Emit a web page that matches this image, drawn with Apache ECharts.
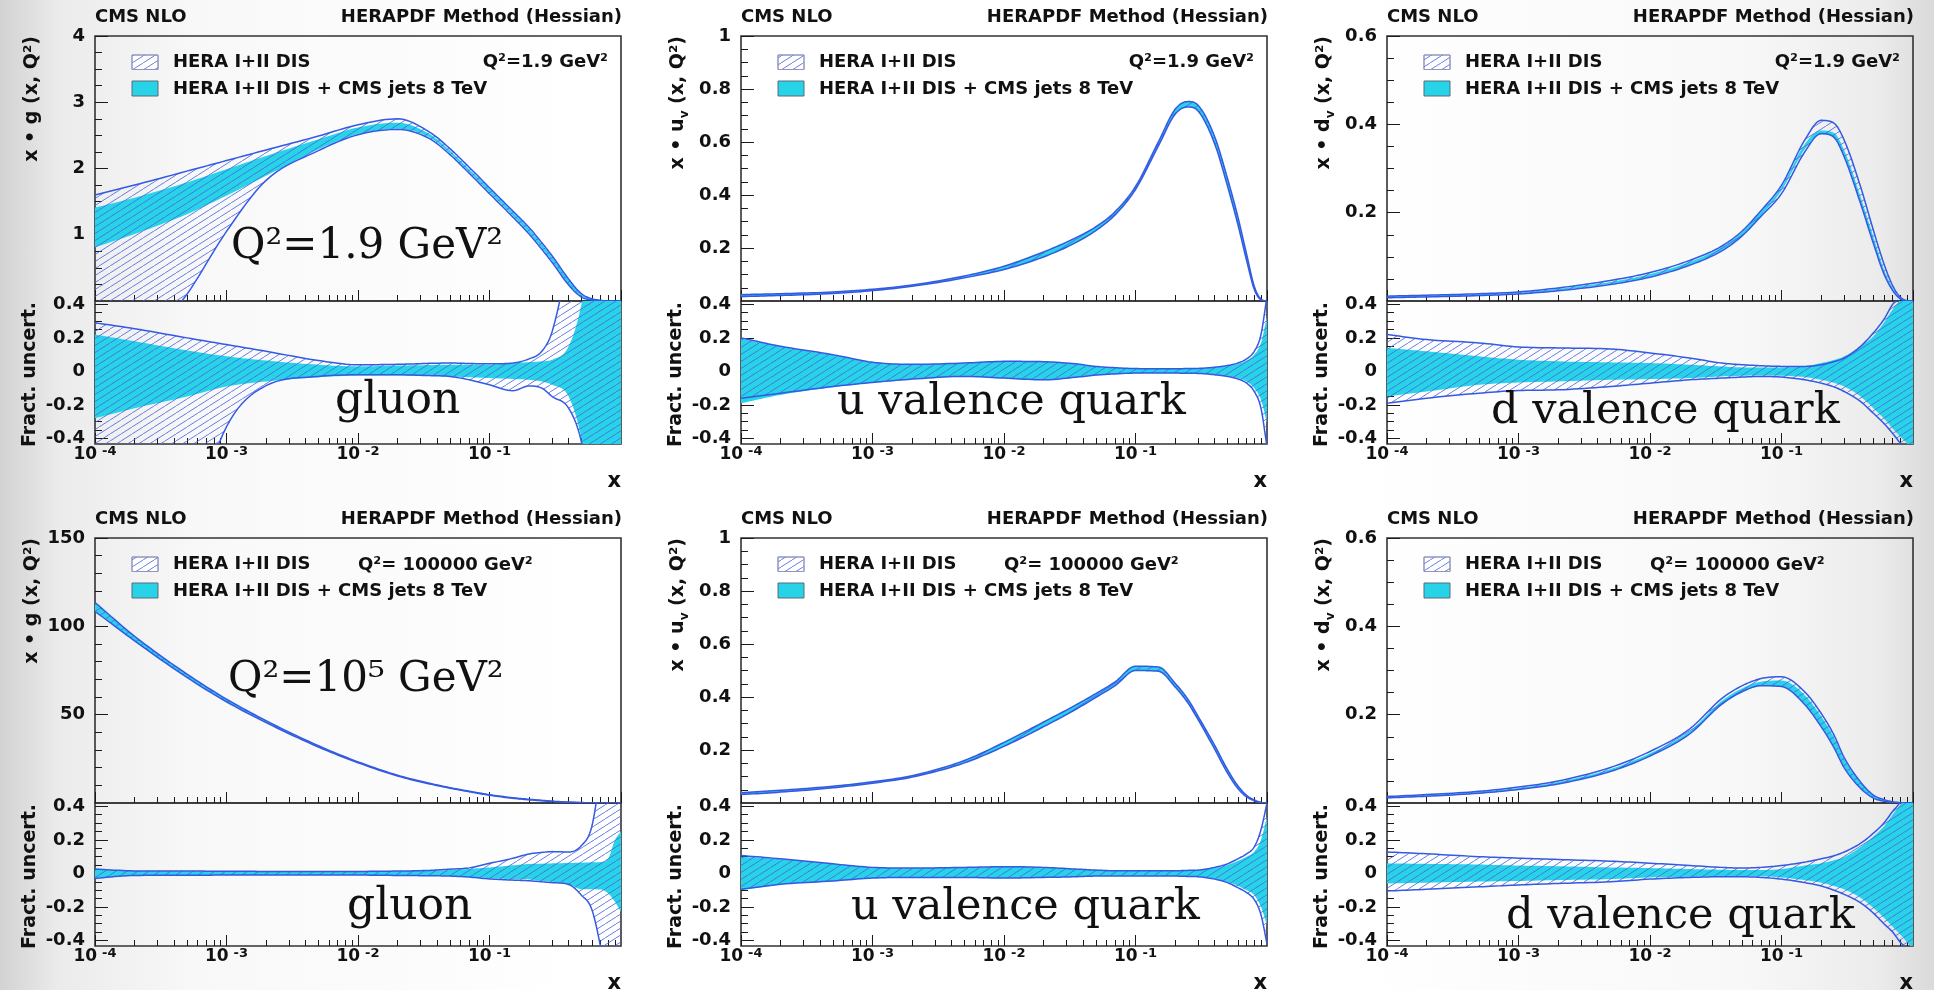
<!DOCTYPE html>
<html>
<head>
<meta charset="utf-8">
<title>HERAPDF gluon / valence</title>
<script src="https://cdn.jsdelivr.net/npm/echarts@6.0.0/dist/echarts.min.js"></script>
<style>
  html, body { margin: 0; padding: 0; }
  body { background: linear-gradient(to right, #d2d2d2 0%, #ebebeb 3%, #f8f8f8 10%, #ffffff 30%, #ffffff 70%, #f8f8f8 90%, #ececec 97%, #dadada 100%); }
  #main { width: 1934px; height: 990px; }
</style>
</head>
<body>
<div id="main"></div>
<script>
// shared x points (Bjorken x)
const xs = [1e-4, 2e-4, 5e-4, 1e-3, 2e-3, 5e-3, 1e-2, 2e-2, 3.5e-2, 5e-2, 7e-2, 0.1, 0.15, 0.2, 0.25, 0.3, 0.4, 0.5, 0.6, 0.7, 0.8, 0.9, 1.0];

// tick labels
const xTickExps = [-4, -3, -2, -1];
const ratioTicks = [-0.4, -0.2, 0, 0.2, 0.4];
const ratioMinorTicks = [-0.35, -0.3, -0.25, -0.15, -0.1, -0.05, 0.05, 0.1, 0.15, 0.25, 0.3, 0.35];

// gluon, Q2 = 1.9 GeV2
const gA_heraHi = [1.60, 1.75, 1.96, 2.12, 2.28, 2.49, 2.66, 2.75, 2.55, 2.30, 2.02, 1.71, 1.36, 1.11, 0.88, 0.68, 0.33, 0.11, 0.035, 0.01, 0, 0, 0];
const gA_heraLo = [-3.0, -0.9, 0.10, 1.05, 1.82, 2.27, 2.51, 2.59, 2.45, 2.21, 1.93, 1.62, 1.27, 1.01, 0.78, 0.58, 0.24, 0.06, 0.015, 0, 0, 0, 0];
const gA_cmsHi = [1.41, 1.56, 1.79, 1.99, 2.19, 2.44, 2.62, 2.69, 2.52, 2.27, 1.99, 1.69, 1.34, 1.09, 0.86, 0.66, 0.32, 0.10, 0.03, 0.008, 0, 0, 0];
const gA_cmsLo = [0.81, 1.01, 1.31, 1.59, 1.89, 2.29, 2.52, 2.60, 2.47, 2.23, 1.95, 1.64, 1.29, 1.03, 0.80, 0.60, 0.25, 0.07, 0.02, 0.004, 0, 0, 0];
const gA_rHeraHi = [0.29, 0.255, 0.20, 0.16, 0.12, 0.065, 0.04, 0.042, 0.048, 0.05, 0.047, 0.045, 0.05, 0.075, 0.12, 0.24, 0.70, 1.2, 1.5, 1.8, 2.0, 2.0, 2.0];
const gA_rHeraLo = [-3.0, -2.0, -1.0, -0.33, -0.085, -0.03, -0.02, -0.02, -0.025, -0.03, -0.05, -0.08, -0.115, -0.087, -0.10, -0.15, -0.22, -0.42, -0.8, -1.2, -1.5, -1.5, -1.5];
const gA_rCmsHi = [0.22, 0.18, 0.125, 0.09, 0.065, 0.04, 0.03, 0.035, 0.038, 0.04, 0.04, 0.04, 0.05, 0.055, 0.06, 0.07, 0.15, 0.40, 0.8, 1.2, 1.5, 1.5, 1.5];
const gA_rCmsLo = [-0.28, -0.22, -0.15, -0.09, -0.06, -0.035, -0.025, -0.025, -0.027, -0.03, -0.035, -0.04, -0.045, -0.05, -0.06, -0.08, -0.15, -0.40, -0.8, -1.2, -1.5, -1.5, -1.5];

// u valence, Q2 = 1.9 GeV2
const uB_heraHi = [0.024, 0.0276, 0.0341, 0.0443, 0.0604, 0.0945, 0.1314, 0.1852, 0.2383, 0.2802, 0.3373, 0.4322, 0.6025, 0.7234, 0.7526, 0.7381, 0.6201, 0.4637, 0.3182, 0.1763, 0.056, 0.0073, 0];
const uB_heraLo = [0.0168, 0.0209, 0.0282, 0.0392, 0.0553, 0.0873, 0.119, 0.1663, 0.22, 0.266, 0.3251, 0.4208, 0.5871, 0.7049, 0.7319, 0.7163, 0.5929, 0.4346, 0.2894, 0.1525, 0.044, 0.0047, 0];
const uB_cmsHi = [0.0239, 0.0276, 0.034, 0.0443, 0.0604, 0.0944, 0.1313, 0.185, 0.238, 0.2799, 0.3369, 0.4318, 0.6019, 0.7227, 0.7518, 0.7373, 0.6189, 0.4623, 0.3166, 0.1747, 0.055, 0.007, 0];
const uB_cmsLo = [0.0162, 0.0206, 0.0281, 0.0391, 0.0553, 0.0872, 0.1189, 0.1661, 0.2198, 0.2657, 0.3247, 0.4203, 0.5871, 0.7049, 0.7319, 0.7163, 0.5935, 0.4359, 0.2909, 0.1542, 0.045, 0.005, 0];
const uB_rHeraHi = [0.20, 0.15, 0.10, 0.055, 0.042, 0.05, 0.06, 0.058, 0.045, 0.03, 0.022, 0.017, 0.016, 0.016, 0.017, 0.018, 0.025, 0.035, 0.05, 0.075, 0.12, 0.22, 0.45];
const uB_rHeraLo = [-0.16, -0.13, -0.09, -0.066, -0.046, -0.03, -0.04, -0.05, -0.035, -0.022, -0.015, -0.01, -0.01, -0.01, -0.011, -0.012, -0.02, -0.03, -0.045, -0.07, -0.12, -0.22, -0.45];
const uB_rCmsHi = [0.195, 0.148, 0.098, 0.054, 0.041, 0.049, 0.059, 0.057, 0.044, 0.029, 0.021, 0.016, 0.015, 0.015, 0.016, 0.017, 0.023, 0.032, 0.045, 0.065, 0.10, 0.17, 0.33];
const uB_rCmsLo = [-0.19, -0.14, -0.095, -0.068, -0.047, -0.031, -0.041, -0.051, -0.036, -0.023, -0.016, -0.011, -0.01, -0.01, -0.011, -0.012, -0.019, -0.027, -0.04, -0.06, -0.10, -0.17, -0.31];

// d valence, Q2 = 1.9 GeV2
const dC_heraHi = [0.011, 0.0131, 0.0164, 0.0206, 0.0296, 0.0465, 0.0644, 0.0918, 0.124, 0.158, 0.205, 0.262, 0.364, 0.409, 0.403, 0.364, 0.258, 0.16, 0.085, 0.035, 0.009, 0.001, 0];
const dC_heraLo = [0.0073, 0.0092, 0.0122, 0.016, 0.0231, 0.0373, 0.054, 0.0808, 0.113, 0.147, 0.192, 0.243, 0.337, 0.379, 0.371, 0.326, 0.22, 0.13, 0.062, 0.024, 0.005, 0, 0];
const dC_cmsHi = [0.0103, 0.0123, 0.0153, 0.0193, 0.0276, 0.0432, 0.0609, 0.0884, 0.1215, 0.1556, 0.2028, 0.258, 0.355, 0.386, 0.381, 0.341, 0.235, 0.145, 0.072, 0.03, 0.007, 0.0005, 0];
const dC_cmsLo = [0.0077, 0.0097, 0.0129, 0.0168, 0.0244, 0.039, 0.0553, 0.0816, 0.1145, 0.148, 0.1932, 0.25, 0.343, 0.377, 0.369, 0.326, 0.22, 0.132, 0.064, 0.025, 0.005, 0, 0];
const dC_rHeraHi = [0.22, 0.19, 0.17, 0.146, 0.14, 0.134, 0.11, 0.08, 0.05, 0.04, 0.034, 0.03, 0.03, 0.04, 0.058, 0.08, 0.15, 0.23, 0.31, 0.40, 0.45, 0.6, 0.8];
const dC_rHeraLo = [-0.19, -0.16, -0.13, -0.114, -0.11, -0.09, -0.07, -0.05, -0.04, -0.034, -0.03, -0.034, -0.05, -0.07, -0.092, -0.12, -0.18, -0.25, -0.31, -0.37, -0.43, -0.5, -0.6];
const dC_rCmsHi = [0.14, 0.12, 0.09, 0.07, 0.06, 0.054, 0.05, 0.04, 0.03, 0.024, 0.024, 0.024, 0.03, 0.05, 0.068, 0.09, 0.15, 0.21, 0.29, 0.37, 0.43, 0.5, 0.6];
const dC_rCmsLo = [-0.15, -0.12, -0.08, -0.066, -0.06, -0.05, -0.046, -0.04, -0.03, -0.026, -0.024, -0.026, -0.034, -0.05, -0.068, -0.09, -0.15, -0.22, -0.28, -0.34, -0.39, -0.43, -0.5];

// gluon, Q2 = 100000 GeV2
const gD_heraHi = [113.5, 94.4, 73.0, 58.8, 46.6, 32.4, 23.3, 15.7, 11.2, 8.7, 6.7, 4.7, 3.0, 2.1, 1.52, 1.02, 0.5, 0.25, 0.1, 0.05, 0.02, 0.005, 0];
const gD_heraLo = [108.5, 91.8, 71.1, 57.3, 45.5, 31.7, 22.8, 15.3, 10.8, 8.4, 6.4, 4.4, 2.7, 1.8, 1.28, 0.85, 0.42, 0.18, 0.07, 0.02, 0.005, 0, 0];
const gD_cmsHi = [113, 94.2, 72.9, 58.7, 46.5, 32.3, 23.2, 15.6, 11.1, 8.6, 6.6, 4.6, 2.9, 2.0, 1.43, 0.95, 0.47, 0.21, 0.085, 0.032, 0.011, 0.002, 0];
const gD_cmsLo = [109, 91.9, 71.2, 57.4, 45.6, 31.8, 22.9, 15.4, 10.9, 8.4, 6.4, 4.4, 2.75, 1.85, 1.3, 0.87, 0.43, 0.19, 0.075, 0.028, 0.009, 0.002, 0];
const gD_rHeraHi = [0.026, 0.015, 0.014, 0.013, 0.012, 0.012, 0.012, 0.014, 0.018, 0.025, 0.033, 0.06, 0.09, 0.116, 0.125, 0.13, 0.128, 0.166, 0.28, 0.6, 0.9, 1.0, 1.0];
const gD_rHeraLo = [-0.03, -0.012, -0.011, -0.01, -0.01, -0.01, -0.01, -0.012, -0.014, -0.016, -0.022, -0.033, -0.04, -0.044, -0.05, -0.055, -0.066, -0.13, -0.215, -0.44, -0.7, -0.9, -1.0];
const gD_rCmsHi = [0.022, 0.014, 0.013, 0.012, 0.011, 0.011, 0.011, 0.013, 0.016, 0.02, 0.027, 0.036, 0.048, 0.056, 0.058, 0.06, 0.062, 0.064, 0.066, 0.068, 0.09, 0.2, 0.25];
const gD_rCmsLo = [-0.027, -0.011, -0.01, -0.009, -0.009, -0.009, -0.009, -0.011, -0.013, -0.015, -0.02, -0.028, -0.034, -0.036, -0.045, -0.05, -0.064, -0.094, -0.095, -0.096, -0.12, -0.17, -0.23];

// u valence, Q2 = 100000 GeV2
const uE_heraHi = [0.0387, 0.0478, 0.0634, 0.0798, 0.1032, 0.1606, 0.2288, 0.3056, 0.3694, 0.4131, 0.4572, 0.5161, 0.5131, 0.4521, 0.3919, 0.3264, 0.2176, 0.1268, 0.0652, 0.029, 0.0116, 0.0025, 0];
const uE_heraLo = [0.0317, 0.0411, 0.0573, 0.0748, 0.0976, 0.1513, 0.2138, 0.2879, 0.3528, 0.3985, 0.4428, 0.4999, 0.4969, 0.4379, 0.3781, 0.3136, 0.2029, 0.1134, 0.0549, 0.023, 0.0084, 0.0015, 0];
const uE_cmsHi = [0.0385, 0.0477, 0.0634, 0.0797, 0.1031, 0.1604, 0.2286, 0.3053, 0.369, 0.4127, 0.4568, 0.5156, 0.5126, 0.4517, 0.3915, 0.3261, 0.2169, 0.126, 0.0645, 0.0286, 0.0113, 0.0024, 0];
const uE_cmsLo = [0.0315, 0.0411, 0.0572, 0.0748, 0.0976, 0.1513, 0.2138, 0.2879, 0.3528, 0.3985, 0.4433, 0.5004, 0.4974, 0.4383, 0.3785, 0.3139, 0.2035, 0.114, 0.0555, 0.0234, 0.0087, 0.0016, 0];
const uE_rHeraHi = [0.107, 0.087, 0.057, 0.036, 0.032, 0.036, 0.04, 0.036, 0.026, 0.02, 0.016, 0.016, 0.016, 0.016, 0.018, 0.02, 0.036, 0.057, 0.087, 0.117, 0.158, 0.26, 0.42];
const uE_rHeraLo = [-0.095, -0.065, -0.045, -0.028, -0.024, -0.024, -0.028, -0.024, -0.02, -0.016, -0.016, -0.016, -0.016, -0.016, -0.018, -0.02, -0.034, -0.055, -0.085, -0.115, -0.156, -0.247, -0.42];
const uE_rCmsHi = [0.10, 0.085, 0.056, 0.035, 0.031, 0.035, 0.039, 0.035, 0.025, 0.019, 0.015, 0.015, 0.015, 0.015, 0.017, 0.019, 0.033, 0.05, 0.075, 0.10, 0.13, 0.2, 0.34];
const uE_rCmsLo = [-0.10, -0.066, -0.046, -0.028, -0.024, -0.024, -0.028, -0.024, -0.02, -0.016, -0.015, -0.015, -0.015, -0.015, -0.017, -0.019, -0.031, -0.05, -0.075, -0.10, -0.13, -0.2, -0.31];

// d valence, Q2 = 100000 GeV2
const dF_heraHi = [0.0147, 0.019, 0.0264, 0.036, 0.0498, 0.0805, 0.1167, 0.1675, 0.2362, 0.2652, 0.2818, 0.2858, 0.2518, 0.2033, 0.1547, 0.1026, 0.0472, 0.018, 0.0078, 0.0027, 0.001, 0, 0];
const dF_heraLo = [0.0116, 0.0154, 0.0221, 0.0307, 0.0432, 0.0713, 0.1063, 0.1562, 0.2234, 0.2519, 0.2655, 0.2637, 0.223, 0.173, 0.126, 0.0796, 0.033, 0.0111, 0.0042, 0.0013, 0.0004, 0, 0];
const dF_cmsHi = [0.0136, 0.0178, 0.025, 0.0342, 0.0475, 0.0769, 0.1124, 0.1625, 0.2307, 0.2595, 0.2747, 0.2773, 0.2446, 0.1962, 0.1494, 0.0988, 0.0459, 0.0175, 0.0076, 0.0027, 0.001, 0, 0];
const dF_cmsLo = [0.0121, 0.0159, 0.0226, 0.0312, 0.0437, 0.0717, 0.1063, 0.1552, 0.2219, 0.2503, 0.2647, 0.2638, 0.2243, 0.1749, 0.1282, 0.0815, 0.0338, 0.0114, 0.0044, 0.0013, 0.0004, 0, 0];
const dF_rHeraHi = [0.128, 0.117, 0.10, 0.091, 0.083, 0.073, 0.061, 0.047, 0.036, 0.032, 0.036, 0.047, 0.067, 0.087, 0.105, 0.128, 0.18, 0.24, 0.30, 0.37, 0.43, 0.55, 0.7];
const dF_rHeraLo = [-0.105, -0.095, -0.08, -0.069, -0.06, -0.05, -0.034, -0.024, -0.02, -0.02, -0.024, -0.034, -0.055, -0.075, -0.1, -0.125, -0.176, -0.237, -0.3, -0.35, -0.41, -0.45, -0.5];
const dF_rCmsHi = [0.06, 0.057, 0.053, 0.047, 0.043, 0.036, 0.032, 0.026, 0.022, 0.02, 0.02, 0.026, 0.047, 0.06, 0.078, 0.097, 0.158, 0.22, 0.28, 0.35, 0.41, 0.46, 0.55];
const dF_rCmsLo = [-0.06, -0.055, -0.049, -0.045, -0.04, -0.034, -0.024, -0.02, -0.017, -0.016, -0.017, -0.024, -0.04, -0.055, -0.075, -0.095, -0.146, -0.206, -0.263, -0.318, -0.364, -0.41, -0.45];

const SANS = 'DejaVu Sans';
const SERIF = 'DejaVu Serif';
const lineBlue = '#3459e2';
const cyanFill = '#27d3e7';

// hatch tile for the HERA-only band
function hatchTile(w, h, color, lw) {
    const c = document.createElement('canvas');
    c.width = w; c.height = h;
    const ctx = c.getContext('2d');
    ctx.strokeStyle = color;
    ctx.lineWidth = lw;
    ctx.beginPath();
    for (let k = -1; k <= 1; k++) {
        ctx.moveTo(k * w, h);
        ctx.lineTo(k * w + w, 0);
    }
    ctx.stroke();
    return c;
}
const hatch = { image: hatchTile(11, 7, 'rgba(78,102,226,0.85)', 1), repeat: 'repeat' };

// monotone cubic (Fritsch-Carlson) sampling between the read points, for drawing only
function monoSpline(xv, yv, steps) {
    const n = xv.length, d = [], m = new Array(n);
    for (let i = 0; i < n - 1; i++) d.push((yv[i + 1] - yv[i]) / (xv[i + 1] - xv[i]));
    m[0] = d[0]; m[n - 1] = d[n - 2];
    for (let i = 1; i < n - 1; i++) m[i] = d[i - 1] * d[i] <= 0 ? 0 : (d[i - 1] + d[i]) / 2;
    for (let i = 0; i < n - 1; i++) {
        if (d[i] === 0) { m[i] = 0; m[i + 1] = 0; continue; }
        const a = m[i] / d[i], b = m[i + 1] / d[i], s = a * a + b * b;
        if (s > 9) { const t = 3 / Math.sqrt(s); m[i] = t * a * d[i]; m[i + 1] = t * b * d[i]; }
    }
    const out = [];
    for (let i = 0; i < n - 1; i++) {
        const h = xv[i + 1] - xv[i];
        for (let k = 0; k < steps; k++) {
            const t = k / steps, t2 = t * t, t3 = t2 * t;
            const y = (2 * t3 - 3 * t2 + 1) * yv[i] + (t3 - 2 * t2 + t) * h * m[i]
                    + (-2 * t3 + 3 * t2) * yv[i + 1] + (t3 - t2) * h * m[i + 1];
            out.push([xv[i] + t * h, y]);
        }
    }
    out.push([xv[n - 1], yv[n - 1]]);
    return out;
}

const colLeft = [95, 741, 1387];
const rowTop = [36, 538];
const plotW = 526, topH = 265, ratH = 143;
const ratMin = -0.433, ratMax = 0.42;

const panels = [
    { col: 0, row: 0, top: [gA_heraLo, gA_heraHi, gA_cmsLo, gA_cmsHi], rat: [gA_rHeraLo, gA_rHeraHi, gA_rCmsLo, gA_rCmsHi],
      yMax: 4, yStep: 1, yMinor: 0.25, flav: 'g', q2: 'low', big: 'Q²=1.9 GeV²', bigPos: [136, 226], name: 'gluon', namePos: [240, 381] },
    { col: 1, row: 0, top: [uB_heraLo, uB_heraHi, uB_cmsLo, uB_cmsHi], rat: [uB_rHeraLo, uB_rHeraHi, uB_rCmsLo, uB_rCmsHi],
      yMax: 1, yStep: 0.2, yMinor: 0.05, flav: 'u', q2: 'low', name: 'u valence quark', namePos: [96, 382] },
    { col: 2, row: 0, top: [dC_heraLo, dC_heraHi, dC_cmsLo, dC_cmsHi], rat: [dC_rHeraLo, dC_rHeraHi, dC_rCmsLo, dC_rCmsHi],
      yMax: 0.6, yStep: 0.2, yMinor: 0.05, flav: 'd', q2: 'low', name: 'd valence quark', namePos: [104, 391] },
    { col: 0, row: 1, top: [gD_heraLo, gD_heraHi, gD_cmsLo, gD_cmsHi], rat: [gD_rHeraLo, gD_rHeraHi, gD_rCmsLo, gD_rCmsHi],
      yMax: 150, yStep: 50, yMinor: 10, flav: 'g', q2: 'high', big: 'Q²=10⁵ GeV²', bigPos: [133, 157], name: 'gluon', namePos: [252, 385] },
    { col: 1, row: 1, top: [uE_heraLo, uE_heraHi, uE_cmsLo, uE_cmsHi], rat: [uE_rHeraLo, uE_rHeraHi, uE_rCmsLo, uE_rCmsHi],
      yMax: 1, yStep: 0.2, yMinor: 0.05, flav: 'u', q2: 'high', name: 'u valence quark', namePos: [110, 385] },
    { col: 2, row: 1, top: [dF_heraLo, dF_heraHi, dF_cmsLo, dF_cmsHi], rat: [dF_rHeraLo, dF_rHeraHi, dF_rCmsLo, dF_rCmsHi],
      yMax: 0.6, yStep: 0.2, yMinor: 0.05, flav: 'd', q2: 'high', name: 'd valence quark', namePos: [119, 394] }
];

// minor log ticks (2..9 in each decade), in log10 units
const xMinorTicks = [];
xTickExps.forEach(n => { for (let k = 2; k <= 9; k++) xMinorTicks.push(n + Math.log10(k)); });

const lx = xs.map(x => Math.log10(x));
const tickLine = { color: '#1a1a1a', width: 1 };
const labelFont = { fontFamily: SANS, fontWeight: 'bold', fontSize: 18, color: '#111' };
// axis lines off, and never moved onto the other axis' zero
const axLine = () => ({ show: false, onZero: false });
const off = () => ({ show: false });

const grids = [], xAxes = [], yAxes = [], series = [], graphics = [];

function addBand(xi, yi, lo, hi, hera) {
    series.push({
        type: 'custom', coordinateSystem: 'cartesian2d', xAxisIndex: xi, yAxisIndex: yi,
        silent: true, animation: false, clip: true, z: hera ? 3 : 2,
        data: lx.map((v, i) => [v, lo[i], hi[i]]),
        encode: { x: 0, y: [1, 2] },
        renderItem: (params, api) => {
            if (params.dataIndexInside !== 0) return null;
            const n = params.dataInsideLength;
            const xv = [], lv = [], hv = [];
            for (let i = 0; i < n; i++) {
                xv.push(api.value(0, i)); lv.push(api.value(1, i)); hv.push(api.value(2, i));
            }
            const loPts = monoSpline(xv, lv, 10).map(pt => api.coord(pt));
            const hiPts = monoSpline(xv, hv, 10).map(pt => api.coord(pt));
            const cs = params.coordSys;
            const children = [{
                type: 'polygon', shape: { points: hiPts.concat(loPts.slice().reverse()) },
                style: { fill: hera ? hatch : cyanFill, stroke: null }
            }];
            if (hera) {
                children.push({ type: 'polyline', shape: { points: loPts }, style: { stroke: lineBlue, lineWidth: 1.5, fill: null } });
                children.push({ type: 'polyline', shape: { points: hiPts }, style: { stroke: lineBlue, lineWidth: 1.5, fill: null } });
            }
            return {
                type: 'group', children: children,
                clipPath: { type: 'rect', shape: { x: cs.x, y: cs.y, width: cs.width, height: cs.height } }
            };
        }
    });
}

function addText(x, y, text, o) {
    o = o || {};
    graphics.push({
        type: 'text', x: x, y: y, rotation: o.rotation || 0, silent: true, z: 20,
        style: {
            text: text, fill: o.color || '#111',
            font: o.font || ('bold 18px "' + SANS + '"'),
            textAlign: o.align || 'left', textVerticalAlign: o.valign || 'middle',
            align: o.align || 'left', verticalAlign: o.valign || 'middle',
            rich: o.rich
        }
    });
}

const titleRich = {
    t: { fontFamily: SANS, fontWeight: 'bold', fontSize: 19, fill: '#111', color: '#111', lineHeight: 22, verticalAlign: 'top' },
    s: { fontFamily: SANS, fontWeight: 'bold', fontSize: 12, fill: '#111', color: '#111', lineHeight: 12, verticalAlign: 'bottom' }
};

panels.forEach(p => {
    const L = colLeft[p.col], T = rowTop[p.row], R = L + plotW;
    [0, 1].forEach(sub => {
        const isRat = sub === 1;
        const h = isRat ? ratH : topH;
        const rect = { left: L, top: isRat ? T + topH : T, width: plotW, height: h };
        // frame grid (major ticks, labels, bands) and a twin grid carrying the minor ticks
        const gMain = grids.length;
        grids.push(Object.assign({ show: true, borderColor: '#333', borderWidth: 1.6, backgroundColor: 'transparent' }, rect));
        const gMinor = grids.length;
        grids.push(Object.assign({ show: false }, rect));

        const xi = xAxes.length;
        xAxes.push({
            type: 'value', gridIndex: gMain, position: 'bottom', min: -4, max: 0, interval: 1,
            axisLine: axLine(), splitLine: off(),
            axisTick: { show: true, inside: true, length: 11, lineStyle: tickLine },
            axisLabel: {
                show: isRat, showMaxLabel: false, margin: 1,
                formatter: v => '{b|10}{e|' + v + '}',
                rich: {
                    b: { fontFamily: SANS, fontWeight: 'bold', fontSize: 17, color: '#111', lineHeight: 18, padding: [8, 0, 0, 0], verticalAlign: 'bottom' },
                    e: { fontFamily: SANS, fontWeight: 'bold', fontSize: 13, color: '#111', lineHeight: 14, padding: [0, 0, 0, 5], verticalAlign: 'top' }
                }
            }
        });
        xAxes.push({
            type: 'value', gridIndex: gMinor, position: 'bottom', min: -4, max: 0,
            axisLine: axLine(), splitLine: off(), axisLabel: off(),
            axisTick: { show: true, inside: true, length: 6, customValues: xMinorTicks, lineStyle: tickLine }
        });

        const yi = yAxes.length;
        if (!isRat) {
            const minor = [];
            for (let v = p.yMinor; v < p.yMax - 1e-9; v += p.yMinor) {
                const r = v / p.yStep;
                if (Math.abs(r - Math.round(r)) > 1e-6) minor.push(+v.toFixed(4));
            }
            yAxes.push({
                type: 'value', gridIndex: gMain, position: 'left', min: 0, max: p.yMax, interval: p.yStep,
                axisLine: axLine(), splitLine: off(),
                axisTick: { show: true, inside: true, length: 13, lineStyle: tickLine },
                axisLabel: Object.assign({ showMinLabel: false, margin: 10 }, labelFont)
            });
            yAxes.push({
                type: 'value', gridIndex: gMinor, position: 'left', min: 0, max: p.yMax,
                axisLine: axLine(), splitLine: off(), axisLabel: off(),
                axisTick: { show: true, inside: true, length: 7, customValues: minor, lineStyle: tickLine }
            });
        } else {
            yAxes.push({
                type: 'value', gridIndex: gMain, position: 'left', min: ratMin, max: ratMax,
                axisLine: axLine(), splitLine: off(),
                axisTick: { show: true, inside: true, length: 13, customValues: ratioTicks, lineStyle: tickLine },
                axisLabel: Object.assign({ customValues: ratioTicks, margin: 10 }, labelFont)
            });
            yAxes.push({
                type: 'value', gridIndex: gMinor, position: 'left', min: ratMin, max: ratMax,
                axisLine: axLine(), splitLine: off(), axisLabel: off(),
                axisTick: { show: true, inside: true, length: 7, customValues: ratioMinorTicks, lineStyle: tickLine }
            });
        }
        const d = isRat ? p.rat : p.top;
        addBand(xi, yi, d[2], d[3], false);
        addBand(xi, yi, d[0], d[1], true);
    });

    // headers
    addText(L, T - 19, 'CMS NLO');
    addText(R + 1, T - 19, 'HERAPDF Method (Hessian)', { align: 'right' });

    // legend
    graphics.push({ type: 'rect', silent: true, z: 20, shape: { x: L + 37, y: T + 19, width: 26, height: 14.5 }, style: { fill: '#ffffff', stroke: '#9096bf', lineWidth: 1 } });
    graphics.push({ type: 'rect', silent: true, z: 21, shape: { x: L + 37, y: T + 19, width: 26, height: 14.5 }, style: { fill: hatch, stroke: '#9096bf', lineWidth: 1 } });
    graphics.push({ type: 'rect', silent: true, z: 20, shape: { x: L + 37, y: T + 45, width: 26, height: 15 }, style: { fill: cyanFill, stroke: '#5b6b7a', lineWidth: 1 } });
    addText(L + 78, T + 26, 'HERA I+II DIS');
    addText(L + 78, T + 53, 'HERA I+II DIS + CMS jets 8 TeV');
    if (p.q2 === 'low') addText(R - 13, T + 26, 'Q²=1.9 GeV²', { align: 'right' });
    else addText(L + 263, T + 27, 'Q²= 100000 GeV²');

    // axis titles
    addText(R, T + 446, 'x', { font: 'bold 21px "' + SANS + '"', align: 'right' });
    const yTitle = p.flav === 'g' ? '{t|x • g (x, Q²)}' : '{t|x • ' + p.flav + '}{s|v}{t| (x, Q²)}';
    addText(L - 61, T, yTitle, { rotation: Math.PI / 2, align: 'right', rich: titleRich });
    addText(L - 65, T + topH + 1, 'Fract. uncert.', { rotation: Math.PI / 2, align: 'right', font: 'bold 19px "' + SANS + '"' });

    // large annotations
    if (p.big) addText(L + p.bigPos[0], T + p.bigPos[1] - 15, p.big, { font: '42px "' + SERIF + '"' });
    addText(L + p.namePos[0], T + p.namePos[1] - 15, p.name, { font: (p.name === 'gluon' ? 44 : 43) + 'px "' + SERIF + '"' });
});

const chart = echarts.init(document.getElementById('main'), null, { renderer: 'canvas' });
chart.setOption({
    backgroundColor: 'transparent',
    animation: false,
    grid: grids,
    xAxis: xAxes,
    yAxis: yAxes,
    series: series,
    graphic: { elements: graphics }
});
</script>
</body>
</html>
